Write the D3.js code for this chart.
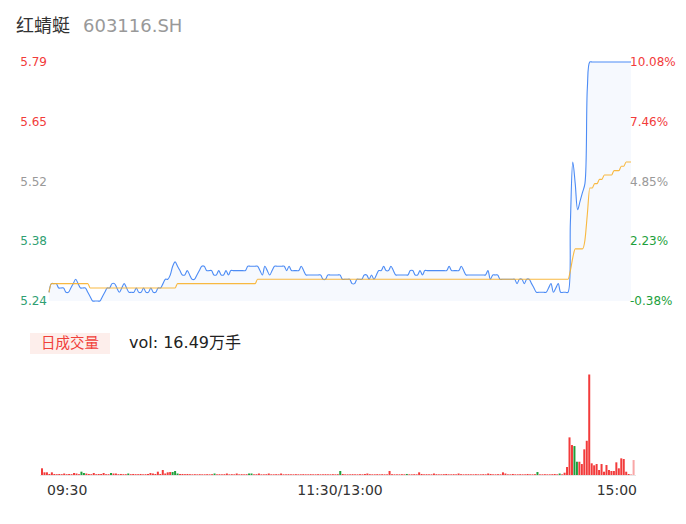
<html>

<head>
    <meta charset="utf-8">
    <title>红蜻蜓 分时图</title>
</head>
<style>
    body { margin: 0; background: #fff; }
    text { font-family: "DejaVu Sans", "Noto Sans CJK SC", sans-serif; }
</style>

<body>
<script src="https://cdn.jsdelivr.net/npm/d3@7/dist/d3.min.js"></script>
<script>
    var stockName = "红蜻蜓";
    var stockCode = "603116.SH";
    var preClose = 5.26;
    var priceRange = [5.24, 5.79];
    var priceLabels = ["5.24", "5.38", "5.52", "5.65", "5.79"];
    var pctLabels = ["-0.38%", "2.23%", "4.85%", "7.46%", "10.08%"];
    var timeLabels = ["09:30", "11:30/13:00", "15:00"];
    var volTitle = "日成交量";
    var volText = "vol: 16.49万手";

    // 每分钟价格 09:30 - 15:00, 共241个点
    var price = [
        5.26, 5.28, 5.28, 5.28, 5.27, 5.27, 5.27, 5.26, 5.26, 5.27,
        5.28, 5.29, 5.28, 5.27, 5.27, 5.27, 5.26, 5.25, 5.24, 5.24,
        5.24, 5.24, 5.25, 5.26, 5.27, 5.27, 5.28, 5.28, 5.27, 5.26,
        5.27, 5.28, 5.27, 5.26, 5.26, 5.26, 5.27, 5.26, 5.26, 5.27,
        5.26, 5.26, 5.27, 5.26, 5.26, 5.27, 5.27, 5.28, 5.29, 5.29,
        5.30, 5.32, 5.33, 5.32, 5.31, 5.30, 5.30, 5.31, 5.30, 5.29,
        5.29, 5.30, 5.31, 5.32, 5.32, 5.31, 5.31, 5.31, 5.30, 5.30,
        5.31, 5.30, 5.30, 5.31, 5.30, 5.31, 5.31, 5.31, 5.31, 5.31,
        5.31, 5.31, 5.32, 5.32, 5.32, 5.32, 5.32, 5.31, 5.30, 5.32,
        5.31, 5.30, 5.31, 5.32, 5.32, 5.32, 5.32, 5.32, 5.31, 5.32,
        5.31, 5.31, 5.31, 5.31, 5.32, 5.31, 5.30, 5.30, 5.30, 5.30,
        5.30, 5.30, 5.30, 5.29, 5.29, 5.30, 5.30, 5.30, 5.30, 5.30,
        5.30, 5.29, 5.29, 5.29, 5.29, 5.28, 5.28, 5.29, 5.29, 5.29,
        5.30, 5.30, 5.29, 5.30, 5.29, 5.30, 5.31, 5.31, 5.32, 5.31,
        5.31, 5.32, 5.31, 5.30, 5.30, 5.30, 5.30, 5.30, 5.30, 5.31,
        5.31, 5.30, 5.30, 5.31, 5.30, 5.31, 5.31, 5.31, 5.31, 5.31,
        5.31, 5.31, 5.31, 5.31, 5.31, 5.32, 5.31, 5.31, 5.31, 5.31,
        5.32, 5.31, 5.30, 5.30, 5.30, 5.30, 5.30, 5.30, 5.30, 5.30,
        5.30, 5.31, 5.29, 5.30, 5.30, 5.30, 5.29, 5.29, 5.29, 5.29,
        5.29, 5.29, 5.29, 5.28, 5.29, 5.29, 5.28, 5.29, 5.29, 5.28,
        5.27, 5.26, 5.26, 5.26, 5.26, 5.26, 5.27, 5.28, 5.26, 5.27,
        5.28, 5.26, 5.26, 5.26, 5.26, 5.42, 5.56, 5.51, 5.45, 5.47,
        5.49, 5.51, 5.73, 5.79, 5.79, 5.79, 5.79, 5.79, 5.79, 5.79,
        5.79, 5.79, 5.79, 5.79, 5.79, 5.79, 5.79, 5.79, 5.79, 5.79,
        5.79
    ];

    // 均价
    var avgPrice = [
        5.26, 5.28, 5.28, 5.28, 5.28, 5.28, 5.28, 5.28, 5.28, 5.28,
        5.28, 5.28, 5.28, 5.28, 5.28, 5.28, 5.28, 5.27, 5.27, 5.27,
        5.27, 5.27, 5.27, 5.27, 5.27, 5.27, 5.27, 5.27, 5.27, 5.27,
        5.27, 5.27, 5.27, 5.27, 5.27, 5.27, 5.27, 5.27, 5.27, 5.27,
        5.27, 5.27, 5.27, 5.27, 5.27, 5.27, 5.27, 5.27, 5.27, 5.27,
        5.27, 5.27, 5.27, 5.28, 5.28, 5.28, 5.28, 5.28, 5.28, 5.28,
        5.28, 5.28, 5.28, 5.28, 5.28, 5.28, 5.28, 5.28, 5.28, 5.28,
        5.28, 5.28, 5.28, 5.28, 5.28, 5.28, 5.28, 5.28, 5.28, 5.28,
        5.28, 5.28, 5.28, 5.28, 5.28, 5.28, 5.29, 5.29, 5.29, 5.29,
        5.29, 5.29, 5.29, 5.29, 5.29, 5.29, 5.29, 5.29, 5.29, 5.29,
        5.29, 5.29, 5.29, 5.29, 5.29, 5.29, 5.29, 5.29, 5.29, 5.29,
        5.29, 5.29, 5.29, 5.29, 5.29, 5.29, 5.29, 5.29, 5.29, 5.29,
        5.29, 5.29, 5.29, 5.29, 5.29, 5.29, 5.29, 5.29, 5.29, 5.29,
        5.29, 5.29, 5.29, 5.29, 5.29, 5.29, 5.29, 5.29, 5.29, 5.29,
        5.29, 5.29, 5.29, 5.29, 5.29, 5.29, 5.29, 5.29, 5.29, 5.29,
        5.29, 5.29, 5.29, 5.29, 5.29, 5.29, 5.29, 5.29, 5.29, 5.29,
        5.29, 5.29, 5.29, 5.29, 5.29, 5.29, 5.29, 5.29, 5.29, 5.29,
        5.29, 5.29, 5.29, 5.29, 5.29, 5.29, 5.29, 5.29, 5.29, 5.29,
        5.29, 5.29, 5.29, 5.29, 5.29, 5.29, 5.29, 5.29, 5.29, 5.29,
        5.29, 5.29, 5.29, 5.29, 5.29, 5.29, 5.29, 5.29, 5.29, 5.29,
        5.29, 5.29, 5.29, 5.29, 5.29, 5.29, 5.29, 5.29, 5.29, 5.29,
        5.29, 5.29, 5.29, 5.29, 5.29, 5.31, 5.34, 5.36, 5.36, 5.36,
        5.36, 5.38, 5.44, 5.50, 5.50, 5.51, 5.51, 5.52, 5.52, 5.53,
        5.53, 5.53, 5.53, 5.54, 5.54, 5.54, 5.55, 5.55, 5.56, 5.56,
        5.56
    ];

    // 成交量(手)
    var volume = [
        1575, 630, 630, 240, 630, 240, 190, 240, 190, 350,
        190, 240, 190, 470, 350, 190, 780, 470, 350, 240,
        190, 470, 190, 240, 240, 470, 190, 190, 470, 350,
        350, 190, 240, 190, 190, 350, 190, 240, 190, 190,
        240, 160, 190, 240, 470, 350, 240, 780, 240, 1175,
        350, 630, 700, 700, 940, 350, 240, 240, 190, 240,
        190, 160, 190, 160, 190, 160, 160, 190, 160, 190,
        350, 160, 190, 160, 190, 350, 160, 190, 160, 350,
        160, 190, 160, 190, 350, 350, 160, 190, 350, 160,
        160, 190, 350, 160, 160, 190, 160, 350, 160, 160,
        190, 160, 160, 190, 160, 160, 190, 160, 160, 190,
        160, 160, 190, 160, 160, 190, 160, 160, 190, 160,
        190, 940, 240, 160, 160, 160, 190, 160, 160, 190,
        160, 240, 350, 190, 160, 160, 190, 160, 190, 160,
        160, 940, 190, 160, 160, 160, 190, 160, 240, 160,
        160, 190, 160, 630, 240, 160, 190, 160, 160, 350,
        190, 160, 160, 190, 240, 160, 160, 190, 160, 350,
        190, 160, 160, 190, 160, 160, 190, 160, 160, 190,
        160, 350, 240, 160, 160, 190, 160, 630, 350, 160,
        160, 240, 160, 160, 190, 160, 160, 240, 160, 160,
        190, 700, 160, 160, 190, 160, 160, 190, 240, 160,
        350, 160, 540, 1880, 8860, 7050, 6815, 3125, 3125, 2585,
        6040, 8060, 23665, 2750, 2280, 2585, 1175, 2585, 775, 2350,
        1175, 940, 940, 2985, 1575, 3925, 3760, 775, 235, 95,
        3525
    ];

    // 下跌的分钟 (绿色柱)
    var greenBars = [16, 17, 28, 35, 53, 54, 55, 70, 84, 85, 121, 148, 201, 210, 216, 217];

    var width = 686;
    var height = 524;

    var red = "#f23b3b";
    var green = "#1e9f3c";

    var svg = d3.select("body").append("svg")
        .attr("width", width)
        .attr("height", height);

    // 标题
    svg.append("text")
        .attr("x", 16).attr("y", 32)
        .attr("font-size", 18).attr("fill", "#333")
        .text(stockName);
    svg.append("text")
        .attr("x", 83).attr("y", 32)
        .attr("font-size", 18).attr("fill", "#999")
        .text(stockCode);

    // 价格区
    var x = d3.scaleLinear().domain([0, price.length - 1]).range([49, 631]);
    var y = d3.scaleLinear().domain(priceRange).range([301, 62]);

    var tickVals = d3.range(5).map(function (i) {
        return priceRange[0] + i * (priceRange[1] - priceRange[0]) / 4;
    });
    var leftColor = ["#2f9f72", "#2f9f72", "#999", red, red];
    var rightColor = ["#1e9f3c", "#1e9f3c", "#999", red, red];

    var area = d3.area()
        .x(function (d, i) { return x(i); })
        .y0(y(priceRange[0]))
        .y1(function (d) { return y(d); })
        .curve(d3.curveCatmullRom);

    svg.append("path")
        .datum(price)
        .attr("fill", "#f6f9fe")
        .attr("d", area);

    var line = d3.line()
        .x(function (d, i) { return x(i); })
        .y(function (d) { return y(d); })
        .curve(d3.curveCatmullRom);

    var avgLine = d3.line()
        .x(function (d, i) { return x(i); })
        .y(function (d) { return y(d); })
        .curve(d3.curveMonotoneX);

    svg.append("path")
        .datum(price)
        .attr("fill", "none")
        .attr("stroke", "#4d8cf5")
        .attr("stroke-width", 1.1)
        .attr("d", line);

    svg.append("path")
        .datum(avgPrice)
        .attr("fill", "none")
        .attr("stroke", "#f8b12c")
        .attr("stroke-opacity", 0.9)
        .attr("stroke-width", 1.1)
        .attr("d", avgLine);

    svg.selectAll(".pl")
        .data(tickVals)
        .enter().append("text")
        .attr("x", 47)
        .attr("y", function (d) { return y(d); })
        .attr("dy", "0.35em")
        .attr("text-anchor", "end")
        .attr("font-size", 12)
        .attr("fill", function (d, i) { return leftColor[i]; })
        .text(function (d, i) { return priceLabels[i]; });

    svg.selectAll(".pc")
        .data(tickVals)
        .enter().append("text")
        .attr("x", 630)
        .attr("y", function (d) { return y(d); })
        .attr("dy", "0.35em")
        .attr("font-size", 12)
        .attr("fill", function (d, i) { return rightColor[i]; })
        .text(function (d, i) { return pctLabels[i]; });

    // 成交量图例
    svg.append("rect")
        .attr("x", 30).attr("y", 333)
        .attr("width", 80).attr("height", 21)
        .attr("fill", "#fdeeeb");
    svg.append("text")
        .attr("x", 70).attr("y", 343)
        .attr("dy", "0.35em")
        .attr("text-anchor", "middle")
        .attr("font-size", 14.5)
        .attr("fill", "#f0403a")
        .text(volTitle);
    svg.append("text")
        .attr("x", 129).attr("y", 342)
        .attr("dy", "0.35em")
        .attr("font-size", 16)
        .attr("fill", "#222")
        .text(volText);

    // 成交量柱
    var vx = d3.scaleLinear().domain([0, volume.length - 1]).range([42, 633.6]);
    var vy = d3.scaleLinear().domain([0, d3.max(volume)]).range([475, 374.5]);

    svg.append("line")
        .attr("x1", 40).attr("x2", 636)
        .attr("y1", 475.5).attr("y2", 475.5)
        .attr("stroke", "#e6e6e6");

    svg.selectAll(".bar")
        .data(volume)
        .enter().append("rect")
        .attr("x", function (d, i) { return vx(i) - 1; })
        .attr("y", function (d) { return vy(d); })
        .attr("width", 2)
        .attr("height", function (d) { return vy(0) - vy(d); })
        .attr("fill", function (d, i) {
            return greenBars.indexOf(i) >= 0 ? green : red;
        })
        .attr("opacity", function (d, i) { return i == volume.length - 1 ? 0.45 : 1; });

    // 时间轴
    var anchors = ["start", "middle", "end"];
    var tx = [47, 340, 637];
    svg.selectAll(".tl")
        .data(timeLabels)
        .enter().append("text")
        .attr("x", function (d, i) { return tx[i]; })
        .attr("y", 490)
        .attr("dy", "0.35em")
        .attr("text-anchor", function (d, i) { return anchors[i]; })
        .attr("font-size", 14)
        .attr("fill", "#333")
        .text(function (d) { return d; });
</script>

</body>

</html>
